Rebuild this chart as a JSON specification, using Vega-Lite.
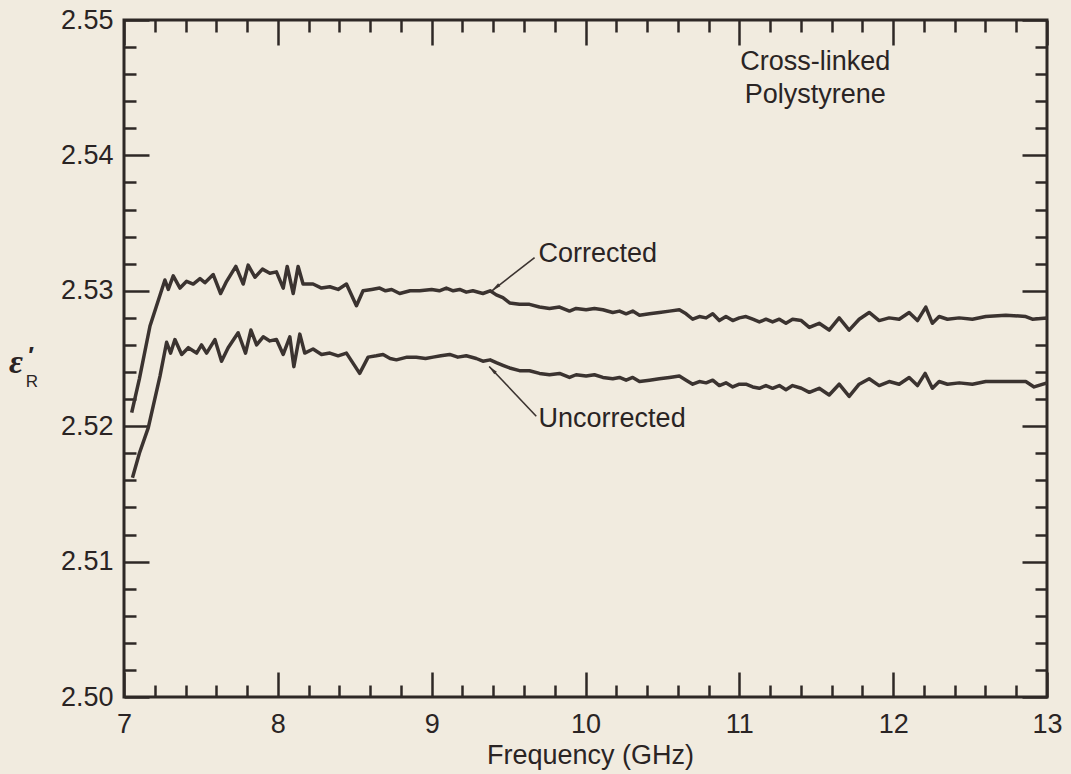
{
  "$schema": "https://vega.github.io/schema/vega-lite/v6.json",
  "width": 923,
  "height": 677,
  "autosize": {"type": "none"},
  "padding": {"left": 124, "top": 20, "right": 24, "bottom": 77},
  "background": "#f1ebdf",
  "config": {
    "view": {"stroke": "#2e2826", "strokeWidth": 3},
    "axis": {
      "domain": false,
      "grid": false,
      "labelFont": "Liberation Sans",
      "labelFontSize": 27,
      "labelColor": "#2a2424",
      "tickColor": "#2e2826",
      "tickWidth": 2.5,
      "labelFlush": false,
      "labelOverlap": false
    }
  },
  "datasets": {
    "curves": [
      {"s": "Corrected", "f": 7.050, "e": 2.5210},
      {"s": "Corrected", "f": 7.100, "e": 2.5235},
      {"s": "Corrected", "f": 7.169, "e": 2.5274},
      {"s": "Corrected", "f": 7.266, "e": 2.5308},
      {"s": "Corrected", "f": 7.288, "e": 2.5301},
      {"s": "Corrected", "f": 7.320, "e": 2.5311},
      {"s": "Corrected", "f": 7.364, "e": 2.5302},
      {"s": "Corrected", "f": 7.407, "e": 2.5307},
      {"s": "Corrected", "f": 7.450, "e": 2.5305},
      {"s": "Corrected", "f": 7.494, "e": 2.5309},
      {"s": "Corrected", "f": 7.526, "e": 2.5306},
      {"s": "Corrected", "f": 7.580, "e": 2.5312},
      {"s": "Corrected", "f": 7.628, "e": 2.5298},
      {"s": "Corrected", "f": 7.667, "e": 2.5307},
      {"s": "Corrected", "f": 7.727, "e": 2.5318},
      {"s": "Corrected", "f": 7.775, "e": 2.5305},
      {"s": "Corrected", "f": 7.807, "e": 2.5319},
      {"s": "Corrected", "f": 7.851, "e": 2.5310},
      {"s": "Corrected", "f": 7.900, "e": 2.5316},
      {"s": "Corrected", "f": 7.948, "e": 2.5313},
      {"s": "Corrected", "f": 7.991, "e": 2.5314},
      {"s": "Corrected", "f": 8.035, "e": 2.5302},
      {"s": "Corrected", "f": 8.061, "e": 2.5318},
      {"s": "Corrected", "f": 8.100, "e": 2.5298},
      {"s": "Corrected", "f": 8.132, "e": 2.5318},
      {"s": "Corrected", "f": 8.164, "e": 2.5305},
      {"s": "Corrected", "f": 8.229, "e": 2.5305},
      {"s": "Corrected", "f": 8.284, "e": 2.5302},
      {"s": "Corrected", "f": 8.338, "e": 2.5303},
      {"s": "Corrected", "f": 8.392, "e": 2.5301},
      {"s": "Corrected", "f": 8.446, "e": 2.5305},
      {"s": "Corrected", "f": 8.511, "e": 2.5289},
      {"s": "Corrected", "f": 8.554, "e": 2.5300},
      {"s": "Corrected", "f": 8.610, "e": 2.5301},
      {"s": "Corrected", "f": 8.662, "e": 2.5302},
      {"s": "Corrected", "f": 8.700, "e": 2.5300},
      {"s": "Corrected", "f": 8.740, "e": 2.5301},
      {"s": "Corrected", "f": 8.792, "e": 2.5298},
      {"s": "Corrected", "f": 8.860, "e": 2.5300},
      {"s": "Corrected", "f": 8.922, "e": 2.5300},
      {"s": "Corrected", "f": 9.000, "e": 2.5301},
      {"s": "Corrected", "f": 9.050, "e": 2.5300},
      {"s": "Corrected", "f": 9.095, "e": 2.5302},
      {"s": "Corrected", "f": 9.140, "e": 2.5300},
      {"s": "Corrected", "f": 9.182, "e": 2.5301},
      {"s": "Corrected", "f": 9.225, "e": 2.5299},
      {"s": "Corrected", "f": 9.268, "e": 2.5300},
      {"s": "Corrected", "f": 9.333, "e": 2.5298},
      {"s": "Corrected", "f": 9.380, "e": 2.5300},
      {"s": "Corrected", "f": 9.420, "e": 2.5297},
      {"s": "Corrected", "f": 9.463, "e": 2.5295},
      {"s": "Corrected", "f": 9.507, "e": 2.5291},
      {"s": "Corrected", "f": 9.571, "e": 2.5290},
      {"s": "Corrected", "f": 9.636, "e": 2.5290},
      {"s": "Corrected", "f": 9.701, "e": 2.5288},
      {"s": "Corrected", "f": 9.766, "e": 2.5287},
      {"s": "Corrected", "f": 9.831, "e": 2.5288},
      {"s": "Corrected", "f": 9.896, "e": 2.5285},
      {"s": "Corrected", "f": 9.939, "e": 2.5287},
      {"s": "Corrected", "f": 10.004, "e": 2.5286},
      {"s": "Corrected", "f": 10.058, "e": 2.5287},
      {"s": "Corrected", "f": 10.113, "e": 2.5286},
      {"s": "Corrected", "f": 10.177, "e": 2.5284},
      {"s": "Corrected", "f": 10.221, "e": 2.5285},
      {"s": "Corrected", "f": 10.264, "e": 2.5283},
      {"s": "Corrected", "f": 10.307, "e": 2.5285},
      {"s": "Corrected", "f": 10.351, "e": 2.5282},
      {"s": "Corrected", "f": 10.416, "e": 2.5283},
      {"s": "Corrected", "f": 10.480, "e": 2.5284},
      {"s": "Corrected", "f": 10.546, "e": 2.5285},
      {"s": "Corrected", "f": 10.610, "e": 2.5286},
      {"s": "Corrected", "f": 10.654, "e": 2.5283},
      {"s": "Corrected", "f": 10.697, "e": 2.5279},
      {"s": "Corrected", "f": 10.740, "e": 2.5281},
      {"s": "Corrected", "f": 10.784, "e": 2.5280},
      {"s": "Corrected", "f": 10.827, "e": 2.5283},
      {"s": "Corrected", "f": 10.870, "e": 2.5278},
      {"s": "Corrected", "f": 10.913, "e": 2.5281},
      {"s": "Corrected", "f": 10.957, "e": 2.5278},
      {"s": "Corrected", "f": 11.000, "e": 2.5280},
      {"s": "Corrected", "f": 11.043, "e": 2.5281},
      {"s": "Corrected", "f": 11.087, "e": 2.5279},
      {"s": "Corrected", "f": 11.130, "e": 2.5277},
      {"s": "Corrected", "f": 11.173, "e": 2.5279},
      {"s": "Corrected", "f": 11.216, "e": 2.5277},
      {"s": "Corrected", "f": 11.260, "e": 2.5279},
      {"s": "Corrected", "f": 11.303, "e": 2.5276},
      {"s": "Corrected", "f": 11.346, "e": 2.5279},
      {"s": "Corrected", "f": 11.403, "e": 2.5278},
      {"s": "Corrected", "f": 11.455, "e": 2.5273},
      {"s": "Corrected", "f": 11.519, "e": 2.5276},
      {"s": "Corrected", "f": 11.584, "e": 2.5271},
      {"s": "Corrected", "f": 11.649, "e": 2.5280},
      {"s": "Corrected", "f": 11.714, "e": 2.5271},
      {"s": "Corrected", "f": 11.779, "e": 2.5279},
      {"s": "Corrected", "f": 11.844, "e": 2.5284},
      {"s": "Corrected", "f": 11.909, "e": 2.5278},
      {"s": "Corrected", "f": 11.974, "e": 2.5280},
      {"s": "Corrected", "f": 12.039, "e": 2.5279},
      {"s": "Corrected", "f": 12.104, "e": 2.5284},
      {"s": "Corrected", "f": 12.158, "e": 2.5278},
      {"s": "Corrected", "f": 12.212, "e": 2.5288},
      {"s": "Corrected", "f": 12.255, "e": 2.5276},
      {"s": "Corrected", "f": 12.299, "e": 2.5281},
      {"s": "Corrected", "f": 12.353, "e": 2.5279},
      {"s": "Corrected", "f": 12.429, "e": 2.5280},
      {"s": "Corrected", "f": 12.515, "e": 2.5279},
      {"s": "Corrected", "f": 12.602, "e": 2.5281},
      {"s": "Corrected", "f": 12.732, "e": 2.5282},
      {"s": "Corrected", "f": 12.862, "e": 2.5281},
      {"s": "Corrected", "f": 12.905, "e": 2.5279},
      {"s": "Corrected", "f": 13.000, "e": 2.5280},
      {"s": "Uncorrected", "f": 7.055, "e": 2.5162},
      {"s": "Uncorrected", "f": 7.100, "e": 2.5180},
      {"s": "Uncorrected", "f": 7.158, "e": 2.5199},
      {"s": "Uncorrected", "f": 7.234, "e": 2.5237},
      {"s": "Uncorrected", "f": 7.277, "e": 2.5262},
      {"s": "Uncorrected", "f": 7.303, "e": 2.5254},
      {"s": "Uncorrected", "f": 7.331, "e": 2.5264},
      {"s": "Uncorrected", "f": 7.375, "e": 2.5253},
      {"s": "Uncorrected", "f": 7.418, "e": 2.5258},
      {"s": "Uncorrected", "f": 7.472, "e": 2.5254},
      {"s": "Uncorrected", "f": 7.504, "e": 2.5260},
      {"s": "Uncorrected", "f": 7.537, "e": 2.5254},
      {"s": "Uncorrected", "f": 7.591, "e": 2.5264},
      {"s": "Uncorrected", "f": 7.634, "e": 2.5248},
      {"s": "Uncorrected", "f": 7.677, "e": 2.5258},
      {"s": "Uncorrected", "f": 7.742, "e": 2.5269},
      {"s": "Uncorrected", "f": 7.790, "e": 2.5254},
      {"s": "Uncorrected", "f": 7.825, "e": 2.5271},
      {"s": "Uncorrected", "f": 7.862, "e": 2.5260},
      {"s": "Uncorrected", "f": 7.905, "e": 2.5266},
      {"s": "Uncorrected", "f": 7.948, "e": 2.5263},
      {"s": "Uncorrected", "f": 7.991, "e": 2.5264},
      {"s": "Uncorrected", "f": 8.035, "e": 2.5253},
      {"s": "Uncorrected", "f": 8.078, "e": 2.5266},
      {"s": "Uncorrected", "f": 8.104, "e": 2.5244},
      {"s": "Uncorrected", "f": 8.143, "e": 2.5268},
      {"s": "Uncorrected", "f": 8.175, "e": 2.5254},
      {"s": "Uncorrected", "f": 8.229, "e": 2.5257},
      {"s": "Uncorrected", "f": 8.284, "e": 2.5253},
      {"s": "Uncorrected", "f": 8.338, "e": 2.5254},
      {"s": "Uncorrected", "f": 8.392, "e": 2.5252},
      {"s": "Uncorrected", "f": 8.446, "e": 2.5254},
      {"s": "Uncorrected", "f": 8.532, "e": 2.5239},
      {"s": "Uncorrected", "f": 8.587, "e": 2.5251},
      {"s": "Uncorrected", "f": 8.640, "e": 2.5252},
      {"s": "Uncorrected", "f": 8.684, "e": 2.5253},
      {"s": "Uncorrected", "f": 8.730, "e": 2.5250},
      {"s": "Uncorrected", "f": 8.771, "e": 2.5249},
      {"s": "Uncorrected", "f": 8.840, "e": 2.5251},
      {"s": "Uncorrected", "f": 8.900, "e": 2.5251},
      {"s": "Uncorrected", "f": 8.960, "e": 2.5250},
      {"s": "Uncorrected", "f": 9.009, "e": 2.5251},
      {"s": "Uncorrected", "f": 9.060, "e": 2.5252},
      {"s": "Uncorrected", "f": 9.117, "e": 2.5253},
      {"s": "Uncorrected", "f": 9.170, "e": 2.5251},
      {"s": "Uncorrected", "f": 9.225, "e": 2.5252},
      {"s": "Uncorrected", "f": 9.290, "e": 2.5250},
      {"s": "Uncorrected", "f": 9.333, "e": 2.5248},
      {"s": "Uncorrected", "f": 9.380, "e": 2.5249},
      {"s": "Uncorrected", "f": 9.420, "e": 2.5247},
      {"s": "Uncorrected", "f": 9.463, "e": 2.5245},
      {"s": "Uncorrected", "f": 9.507, "e": 2.5243},
      {"s": "Uncorrected", "f": 9.571, "e": 2.5241},
      {"s": "Uncorrected", "f": 9.636, "e": 2.5241},
      {"s": "Uncorrected", "f": 9.701, "e": 2.5239},
      {"s": "Uncorrected", "f": 9.766, "e": 2.5238},
      {"s": "Uncorrected", "f": 9.831, "e": 2.5239},
      {"s": "Uncorrected", "f": 9.896, "e": 2.5236},
      {"s": "Uncorrected", "f": 9.939, "e": 2.5238},
      {"s": "Uncorrected", "f": 10.004, "e": 2.5237},
      {"s": "Uncorrected", "f": 10.058, "e": 2.5238},
      {"s": "Uncorrected", "f": 10.113, "e": 2.5236},
      {"s": "Uncorrected", "f": 10.177, "e": 2.5235},
      {"s": "Uncorrected", "f": 10.221, "e": 2.5236},
      {"s": "Uncorrected", "f": 10.264, "e": 2.5234},
      {"s": "Uncorrected", "f": 10.307, "e": 2.5236},
      {"s": "Uncorrected", "f": 10.351, "e": 2.5233},
      {"s": "Uncorrected", "f": 10.416, "e": 2.5234},
      {"s": "Uncorrected", "f": 10.480, "e": 2.5235},
      {"s": "Uncorrected", "f": 10.546, "e": 2.5236},
      {"s": "Uncorrected", "f": 10.610, "e": 2.5237},
      {"s": "Uncorrected", "f": 10.654, "e": 2.5234},
      {"s": "Uncorrected", "f": 10.697, "e": 2.5231},
      {"s": "Uncorrected", "f": 10.740, "e": 2.5233},
      {"s": "Uncorrected", "f": 10.784, "e": 2.5232},
      {"s": "Uncorrected", "f": 10.827, "e": 2.5234},
      {"s": "Uncorrected", "f": 10.870, "e": 2.5230},
      {"s": "Uncorrected", "f": 10.913, "e": 2.5232},
      {"s": "Uncorrected", "f": 10.957, "e": 2.5229},
      {"s": "Uncorrected", "f": 11.000, "e": 2.5231},
      {"s": "Uncorrected", "f": 11.043, "e": 2.5231},
      {"s": "Uncorrected", "f": 11.087, "e": 2.5229},
      {"s": "Uncorrected", "f": 11.130, "e": 2.5228},
      {"s": "Uncorrected", "f": 11.173, "e": 2.5230},
      {"s": "Uncorrected", "f": 11.216, "e": 2.5228},
      {"s": "Uncorrected", "f": 11.260, "e": 2.5230},
      {"s": "Uncorrected", "f": 11.303, "e": 2.5227},
      {"s": "Uncorrected", "f": 11.346, "e": 2.5230},
      {"s": "Uncorrected", "f": 11.403, "e": 2.5228},
      {"s": "Uncorrected", "f": 11.455, "e": 2.5225},
      {"s": "Uncorrected", "f": 11.519, "e": 2.5228},
      {"s": "Uncorrected", "f": 11.584, "e": 2.5223},
      {"s": "Uncorrected", "f": 11.649, "e": 2.5231},
      {"s": "Uncorrected", "f": 11.714, "e": 2.5222},
      {"s": "Uncorrected", "f": 11.779, "e": 2.5231},
      {"s": "Uncorrected", "f": 11.844, "e": 2.5235},
      {"s": "Uncorrected", "f": 11.909, "e": 2.5230},
      {"s": "Uncorrected", "f": 11.974, "e": 2.5233},
      {"s": "Uncorrected", "f": 12.039, "e": 2.5231},
      {"s": "Uncorrected", "f": 12.104, "e": 2.5236},
      {"s": "Uncorrected", "f": 12.158, "e": 2.5230},
      {"s": "Uncorrected", "f": 12.208, "e": 2.5239},
      {"s": "Uncorrected", "f": 12.255, "e": 2.5228},
      {"s": "Uncorrected", "f": 12.299, "e": 2.5233},
      {"s": "Uncorrected", "f": 12.353, "e": 2.5231},
      {"s": "Uncorrected", "f": 12.429, "e": 2.5232},
      {"s": "Uncorrected", "f": 12.515, "e": 2.5231},
      {"s": "Uncorrected", "f": 12.602, "e": 2.5233},
      {"s": "Uncorrected", "f": 12.732, "e": 2.5233},
      {"s": "Uncorrected", "f": 12.862, "e": 2.5233},
      {"s": "Uncorrected", "f": 12.916, "e": 2.5229},
      {"s": "Uncorrected", "f": 13.000, "e": 2.5232}
    ],
    "one": [{}]
  },
  "layer": [
    {
      "data": {"name": "curves"},
      "mark": {"type": "line", "stroke": "#3b3330", "strokeWidth": 3.5, "strokeJoin": "round", "clip": true},
      "encoding": {
        "x": {
          "field": "f", "type": "quantitative",
          "scale": {"domain": [7, 13], "nice": false, "zero": false},
          "axis": {
            "orient": "bottom",
            "values": [7, 7.2, 7.4, 7.6, 7.8, 8, 8.2, 8.4, 8.6, 8.8, 9, 9.2, 9.4, 9.6, 9.8, 10, 10.2, 10.4, 10.6, 10.8, 11, 11.2, 11.4, 11.6, 11.8, 12, 12.2, 12.4, 12.6, 12.8, 13],
            "labelExpr": "abs(datum.value - round(datum.value)) < 0.01 ? format(datum.value, '.0f') : ''",
            "tickSize": {"condition": {"test": "abs(datum.value - round(datum.value)) < 0.01", "value": -25}, "value": -12},
            "labelPadding": 39,
            "title": "Frequency (GHz)",
            "titleFont": "Liberation Sans",
            "titleFontSize": 27,
            "titleFontWeight": "normal",
            "titleColor": "#2a2424",
            "titleBaseline": "alphabetic",
            "titleAlign": "center",
            "titleX": 466,
            "titleY": 66
          }
        },
        "y": {
          "field": "e", "type": "quantitative",
          "scale": {"domain": [2.5, 2.55], "nice": false, "zero": false},
          "axis": {
            "orient": "left",
            "values": [2.5, 2.502, 2.504, 2.506, 2.508, 2.51, 2.512, 2.514, 2.516, 2.518, 2.52, 2.522, 2.524, 2.526, 2.528, 2.53, 2.532, 2.534, 2.536, 2.538, 2.54, 2.542, 2.544, 2.546, 2.548, 2.55],
            "labelExpr": "abs(datum.value*100 - round(datum.value*100)) < 0.01 ? format(datum.value, '.2f') : ''",
            "tickSize": {"condition": {"test": "abs(datum.value*100 - round(datum.value*100)) < 0.01", "value": -25}, "value": -12},
            "labelPadding": 36,
            "title": null
          }
        },
        "detail": {"field": "s", "type": "nominal"}
      }
    },
    {
      "data": {"name": "curves"},
      "mark": {"type": "line", "strokeOpacity": 0},
      "encoding": {
        "x": {
          "field": "f", "type": "quantitative",
          "axis": {
            "orient": "top",
            "labels": false,
            "title": null,
            "values": [7, 7.2, 7.4, 7.6, 7.8, 8, 8.2, 8.4, 8.6, 8.8, 9, 9.2, 9.4, 9.6, 9.8, 10, 10.2, 10.4, 10.6, 10.8, 11, 11.2, 11.4, 11.6, 11.8, 12, 12.2, 12.4, 12.6, 12.8, 13],
            "tickSize": {"condition": {"test": "abs(datum.value - round(datum.value)) < 0.01", "value": -25}, "value": -12}
          }
        },
        "y": {
          "field": "e", "type": "quantitative",
          "axis": {
            "orient": "right",
            "labels": false,
            "title": null,
            "values": [2.5, 2.502, 2.504, 2.506, 2.508, 2.51, 2.512, 2.514, 2.516, 2.518, 2.52, 2.522, 2.524, 2.526, 2.528, 2.53, 2.532, 2.534, 2.536, 2.538, 2.54, 2.542, 2.544, 2.546, 2.548, 2.55],
            "tickSize": {"condition": {"test": "abs(datum.value*100 - round(datum.value*100)) < 0.01", "value": -25}, "value": -12}
          }
        },
        "detail": {"field": "s", "type": "nominal"}
      }
    },
    {
      "data": {"name": "one"},
      "mark": {"type": "rule", "stroke": "#3b3330", "strokeWidth": 1.6},
      "encoding": {
        "x": {"datum": 9.669, "type": "quantitative", "axis": null},
        "y": {"datum": 2.53245, "type": "quantitative", "axis": null},
        "x2": {"datum": 9.392},
        "y2": {"datum": 2.53000}
      }
    },
    {
      "data": {"name": "one"},
      "mark": {"type": "rule", "stroke": "#3b3330", "strokeWidth": 1.6},
      "encoding": {
        "x": {"datum": 9.680, "type": "quantitative", "axis": null},
        "y": {"datum": 2.52074, "type": "quantitative", "axis": null},
        "x2": {"datum": 9.374},
        "y2": {"datum": 2.52441}
      }
    },
    {
      "data": {"name": "one"},
      "mark": {"type": "point", "shape": "M0,0L0.45,2.4L-0.45,2.4Z", "size": 64, "filled": true, "fill": "#3b3330", "strokeOpacity": 0, "opacity": 1, "angle": 232},
      "encoding": {
        "x": {"datum": 9.390, "type": "quantitative", "axis": null},
        "y": {"datum": 2.53001, "type": "quantitative", "axis": null}
      }
    },
    {
      "data": {"name": "one"},
      "mark": {"type": "point", "shape": "M0,0L0.45,2.4L-0.45,2.4Z", "size": 64, "filled": true, "fill": "#3b3330", "strokeOpacity": 0, "opacity": 1, "angle": 316},
      "encoding": {
        "x": {"datum": 9.372, "type": "quantitative", "axis": null},
        "y": {"datum": 2.52443, "type": "quantitative", "axis": null}
      }
    },
    {
      "data": {"name": "one"},
      "mark": {"type": "text", "text": "Corrected", "font": "Liberation Sans", "fontSize": 27, "fill": "#2a2424", "align": "left", "baseline": "alphabetic"},
      "encoding": {
        "x": {"datum": 9.695, "type": "quantitative", "axis": null},
        "y": {"datum": 2.53215, "type": "quantitative", "axis": null}
      }
    },
    {
      "data": {"name": "one"},
      "mark": {"type": "text", "text": "Uncorrected", "font": "Liberation Sans", "fontSize": 27, "fill": "#2a2424", "align": "left", "baseline": "alphabetic"},
      "encoding": {
        "x": {"datum": 9.695, "type": "quantitative", "axis": null},
        "y": {"datum": 2.51991, "type": "quantitative", "axis": null}
      }
    },
    {
      "data": {"name": "one"},
      "mark": {"type": "text", "text": ["Cross-linked", "Polystyrene"], "lineHeight": 33, "font": "Liberation Sans", "fontSize": 27, "fill": "#2a2424", "align": "center", "baseline": "alphabetic"},
      "encoding": {
        "x": {"datum": 11.494, "type": "quantitative", "axis": null},
        "y": {"datum": 2.54631, "type": "quantitative", "axis": null}
      }
    },
    {
      "data": {"name": "one"},
      "mark": {"type": "text", "text": "ε", "font": "Liberation Serif", "fontSize": 34, "fontWeight": "bold", "fontStyle": "italic", "fill": "#2a2424", "align": "center", "baseline": "alphabetic", "dx": -108, "dy": 1},
      "encoding": {
        "x": {"datum": 7, "type": "quantitative", "axis": null},
        "y": {"datum": 2.524, "type": "quantitative", "axis": null}
      }
    },
    {
      "data": {"name": "one"},
      "mark": {"type": "text", "text": "′", "font": "Liberation Sans", "fontSize": 24, "fontWeight": "bold", "fill": "#2a2424", "align": "center", "baseline": "alphabetic", "dx": -93, "dy": -8},
      "encoding": {
        "x": {"datum": 7, "type": "quantitative", "axis": null},
        "y": {"datum": 2.524, "type": "quantitative", "axis": null}
      }
    },
    {
      "data": {"name": "one"},
      "mark": {"type": "text", "text": "R", "font": "Liberation Sans", "fontSize": 17, "fill": "#2a2424", "align": "center", "baseline": "alphabetic", "dx": -92, "dy": 15},
      "encoding": {
        "x": {"datum": 7, "type": "quantitative", "axis": null},
        "y": {"datum": 2.524, "type": "quantitative", "axis": null}
      }
    }
  ],
  "resolve": {"axis": {"x": "independent", "y": "independent"}}
}
